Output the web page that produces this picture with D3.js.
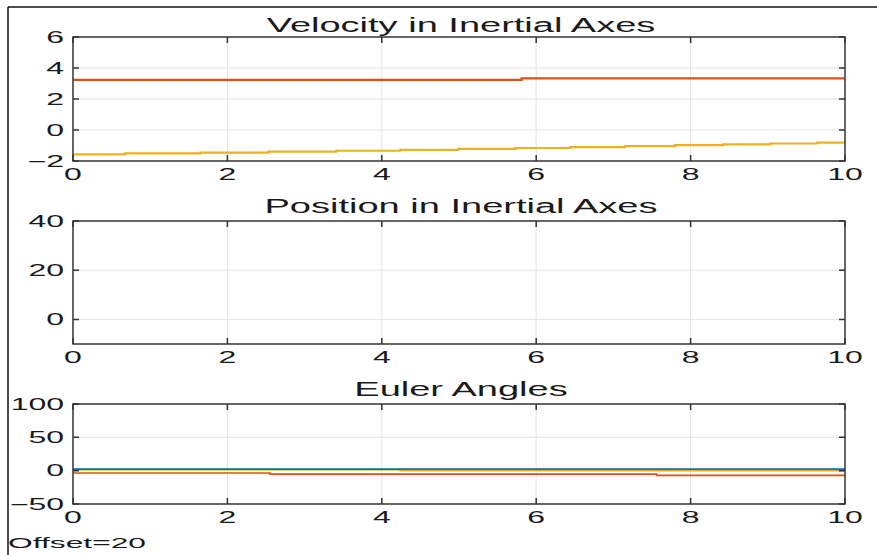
<!DOCTYPE html>
<html>
<head>
<meta charset="utf-8">
<script src="https://cdn.jsdelivr.net/npm/d3@7"></script>
<style>
  html, body { margin: 0; padding: 0; background: #fff; }
  text { font-family: "Liberation Sans", Arial, sans-serif; fill: #1a1a1a; }
</style>
</head>
<body>
<div id="chart"></div>
<script>
// Tick values shared / per panel
const xTicks = [0, 2, 4, 6, 8, 10];
const velTicks = [-2, 0, 2, 4, 6];
const posTicks = [0, 20, 40];
const eulTicks = [-50, 0, 50, 100];

// Velocity in inertial axes (step-held samples)
const velRedT = [0, 5.81, 10];
const velRedV = [3.23, 3.33, 3.33];
const velYelT = [0, 0.67, 1.65, 2.53, 3.41, 4.24, 4.99, 5.73, 6.44, 7.15, 7.80, 8.42, 9.03, 9.64, 10];
const velYelV = [-1.57, -1.51, -1.46, -1.40, -1.34, -1.28, -1.22, -1.16, -1.10, -1.04, -0.98, -0.93, -0.87, -0.82, -0.82];

// Euler angles
const eulYelT = [0, 4.24, 10];
const eulYelV = [1.5, 0.0, 0.0];
const eulBluT = [0, 10];
const eulBluV = [2.4, 2.4];
const eulRedT = [0, 2.55, 7.56, 10];
const eulRedV = [-3.5, -5.3, -7, -7];

const width = 877, height = 555;
const sx = 2; // the screenshot text is stretched horizontally

const svg = d3.select("#chart").append("svg")
    .attr("width", width)
    .attr("height", height);

svg.append("rect").attr("width", width).attr("height", height).attr("fill", "#fff");

// outer frame of the screenshot
svg.append("line").attr("x1", 8).attr("x2", width).attr("y1", 7).attr("y2", 7)
    .attr("stroke", "#111").attr("stroke-width", 1.5);
svg.append("line").attr("x1", 8).attr("x2", 8).attr("y1", 7).attr("y2", height)
    .attr("stroke", "#111").attr("stroke-width", 1.5);

const x = d3.scaleLinear().domain([0, 10]).range([73, 845]);

const panels = [
  { title: "Velocity in Inertial Axes", domain: [-2, 6], range: [161, 37], ticks: velTicks, titleY: 32, lw: 2.2,
    series: [
      { t: velRedT, v: velRedV, color: "#D95319" },
      { t: velYelT, v: velYelV, color: "#EDB120" }
    ] },
  { title: "Position in Inertial Axes", domain: [-10, 40], range: [344, 221], ticks: posTicks, titleY: 213, lw: 2.2,
    series: [] },
  { title: "Euler Angles", domain: [-50, 100], range: [504, 404], ticks: eulTicks, titleY: 396, lw: 1.7,
    series: [
      { t: eulYelT, v: eulYelV, color: "#EDB120" },
      { t: eulBluT, v: eulBluV, color: "#0072BD" },
      { t: eulRedT, v: eulRedV, color: "#D95319" }
    ] }
];

function stretchedText(g, tx, ty, str, size, anchor, s) {
  g.append("text")
    .attr("transform", `translate(${tx},${ty}) scale(${s},1)`)
    .attr("text-anchor", anchor)
    .attr("font-size", size)
    .text(str);
}

panels.forEach((p, i) => {
  const y = d3.scaleLinear().domain(p.domain).range(p.range);
  const g = svg.append("g");
  const [x0, x1] = x.range();
  const [yb, yt] = p.range;

  // grid
  g.append("g").selectAll("line").data(xTicks.slice(1, -1)).join("line")
    .attr("x1", d => x(d)).attr("x2", d => x(d)).attr("y1", yt).attr("y2", yb)
    .attr("stroke", "#e3e3e3").attr("stroke-width", 1);
  g.append("g").selectAll("line").data(p.ticks.filter(d => y(d) > yt + 1 && y(d) < yb - 1)).join("line")
    .attr("x1", x0).attr("x2", x1).attr("y1", d => y(d)).attr("y2", d => y(d))
    .attr("stroke", "#e3e3e3").attr("stroke-width", 1);

  // lines
  const clipId = "clip" + i;
  svg.append("clipPath").attr("id", clipId).append("rect")
    .attr("x", x0).attr("y", yt).attr("width", x1 - x0).attr("height", yb - yt);
  const line = d3.line().x(d => x(d[0])).y(d => y(d[1])).curve(d3.curveStepAfter);
  p.series.forEach(s => {
    g.append("path")
      .datum(d3.zip(s.t, s.v))
      .attr("clip-path", `url(#${clipId})`)
      .attr("fill", "none")
      .attr("stroke", s.color)
      .attr("stroke-width", p.lw)
      .attr("d", line);
  });

  // inward ticks on all four sides
  const tl = 6;
  g.append("g").selectAll("path").data(xTicks).join("path")
    .attr("d", d => `M${x(d)},${yb}v${-tl}M${x(d)},${yt}v${tl}`)
    .attr("stroke", "#333").attr("stroke-width", 1.5);
  g.append("g").selectAll("path").data(p.ticks).join("path")
    .attr("d", d => `M${x0},${y(d)}h${tl}M${x1},${y(d)}h${-tl}`)
    .attr("stroke", "#333").attr("stroke-width", 1.5);

  // box
  g.append("rect")
    .attr("x", x0).attr("y", yt).attr("width", x1 - x0).attr("height", yb - yt)
    .attr("fill", "none").attr("stroke", "#333").attr("stroke-width", 1.5);

  // tick labels
  xTicks.forEach(d => stretchedText(g, x(d), yb + 19, d3.format("d")(d), 16, "middle", sx));
  p.ticks.forEach(d => stretchedText(g, x0 - 9, y(d) + 5.5, d3.format("d")(d), 16, "end", sx));

  // title
  stretchedText(g, (x0 + x1) / 2 + 2, p.titleY, p.title, 19.5, "middle", 1.95);
});

stretchedText(svg, 8, 548, "Offset=20", 15.5, "start", 2.05);
</script>
</body>
</html>
